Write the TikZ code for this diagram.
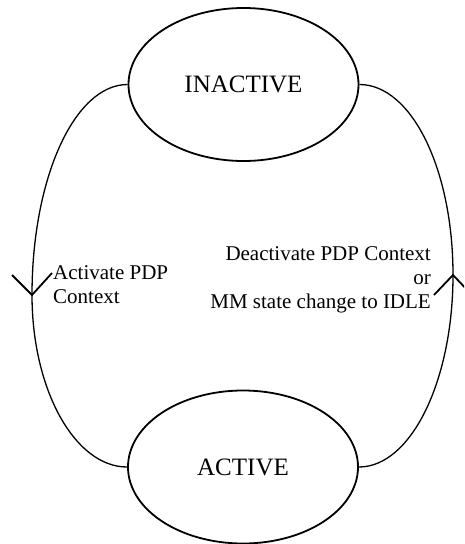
\documentclass[tikz,border=0pt]{standalone}
\usepackage{fontspec}
\setmainfont{Liberation Serif}
\usetikzlibrary{shapes.geometric,calc}
\begin{document}
\begin{tikzpicture}[x=1pt,y=-1pt,
  state/.style={ellipse,draw,line width=1.8pt,inner sep=0pt,
    minimum width=230pt,minimum height=153pt,
    font=\fontsize{25}{30}\selectfont},
  trans/.style={line width=1.3pt},
  vhead/.style={line width=1.8pt,line join=miter},
  lbl/.style={inner sep=0pt,font=\fontsize{21}{24}\selectfont}]
\useasboundingbox (0,0) rectangle (464,544);
\clip (0,0) rectangle (464,544);

% the two PDP context states
\node[state] (inactive) at (243.5,84.5) {INACTIVE};
\node[state] (active) at (243,467) {ACTIVE};

% points where the transition arrows sit
\coordinate (down) at (32,295);
\coordinate (up) at (453,275);

% INACTIVE -> ACTIVE on the left
\draw[trans] (inactive.west) .. controls +(-53,0) and +(0,-117) .. (down);
\draw[trans] (down) .. controls +(0,95) and +(-52,0) .. (active.west);
\draw[vhead] ($(down)+(-20,-20)$) -- (down) -- ($(down)+(20,-22)$);

% ACTIVE -> INACTIVE on the right
\draw[trans] (active.east) .. controls +(52,0) and +(0,106) .. (up);
\draw[trans] (up) .. controls +(0,-106) and +(52,0) .. (inactive.east);
\draw[vhead] ($(up)+(-19,20)$) -- (up) -- ($(up)+(19,20)$);

% transition labels
\node[lbl,anchor=north west,align=left] (actlbl) at (53,265) {Activate PDP\\Context};
\node[lbl,anchor=north east,align=right] (deactlbl) at (431,246)
  {Deactivate PDP Context\\or\\MM state change to IDLE};
\end{tikzpicture}
\end{document}
